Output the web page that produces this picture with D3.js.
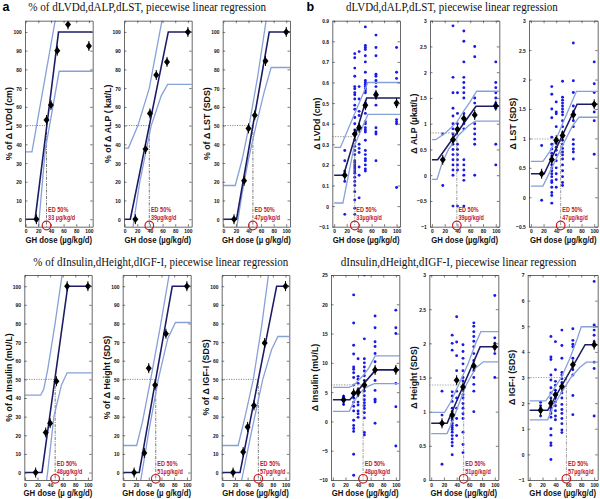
<!DOCTYPE html>
<html><head><meta charset="utf-8">
<script src="https://cdn.jsdelivr.net/npm/d3@7"></script>
<style>body{margin:0;background:#fff}svg{display:block}</style>
</head><body>
<script>
// ===================== DATA =====================
const doses = [17, 33, 40, 50, 67, 100];
const xTickValues = [0, 20, 40, 60, 80, 100];
const pctTickValues = [0, 10, 20, 30, 40, 50, 60, 70, 80, 90, 100];

// ---- % panels (a) ----
const pctLVDdMeans = [0, 53, 61, 90, 104, 92.5];
const pctLVDdFit = [[0,0],[15,0],[52,100],[106,100]];
const pctLVDdUpper = [[0,36],[10,36],[54,120]];
const pctLVDdLower = [[12,-36],[31,37],[53,79],[106,79]];

const pctALPMeans = [0, 37.5, 56.5, 77, 84, 100];
const pctALPFit = [[0,0],[9,0],[69,100],[106,100]];
const pctALPUpper = [[0,38],[6,38],[21,50],[39,70],[59,106],[70,128]];
const pctALPLower = [[13,-5],[15,0],[24,20],[42,50],[58,66],[68,72],[106,72]];

const pctLSTMeans = [0, 20.5, 48.5, 55.5, 84.5, 100];
const pctLSTFit = [[0,0],[21,0],[73,100],[106,100]];
const pctLSTUpper = [[0,18],[19,18],[30,32],[41,50],[55,77],[68,106],[75,120]];
const pctLSTLower = [[21,-5],[30,14],[40,32],[52,50],[65,68],[76,81],[106,81]];

const pctInsMeans = [0, 21.5, 26.5, 49, 100, 100];
const pctInsFit = [[0,0],[27,0],[68,100],[106,100]];
const pctInsUpper = [[0,41.5],[25,41.5],[30,45],[36,55],[47,78],[59,106],[65,120]];
const pctInsLower = [[34,-5],[36,0],[46,30],[58,47],[67,53.5],[106,53.5]];

const pctHtMeans = [0, 10.5, 56, 47, 74.5, 100];
const pctHtFit = [[0,0],[25,0],[77,100],[106,100]];
const pctHtUpper = [[0,14.5],[21,14.5],[30,27],[43,50],[58,78],[72,106],[78,118]];
const pctHtLower = [[27,-5],[40,22],[55,50],[70,72],[82,80.5],[106,80.5]];

const pctIGFMeans = [0, 11, 24.5, 36, 69.5, 100];
const pctIGFFit = [[0,0],[28,0],[86,100],[106,100]];
const pctIGFUpper = [[0,14.5],[25,14.5],[36,30],[49,50],[62,78],[73,106],[80,122]];
const pctIGFLower = [[30,-5],[45,20],[64,50],[78,66],[88,73],[106,73]];

// ---- absolute panels (b) ----
const lvddMeans = [0.15, 0.35, 0.38, 0.49, 0.54, 0.50];
const lvddFit = [[0,0.15],[15,0.15],[52,0.525],[106,0.525]];
const lvddUpper = [[0,0.285],[10,0.285],[54,0.60],[106,0.60]];
const lvddLower = [[0,0.015],[14,0.015],[32,0.29],[54,0.445],[106,0.445]];
const lvddScatter = [
  [0.27,0.22,0.17,0.12,-0.04],
  [0.74,0.72,0.67,0.63,0.58,0.57,0.55,0.54,0.52,0.49,0.47,0.43,0.40,0.37,0.32,0.29,0.27,0.25,0.22,0.21,0.20,0.19,0.18,0.17,0.16,0.14,0.12,0.10,0.07,0.03,-0.01,-0.04],
  [0.75,0.58,0.52,0.46,0.44,0.39,0.30,0.28,0.26,0.19,0.15,0.04],
  [0.87,0.78,0.77,0.76,0.73,0.70,0.65,0.61,0.60,0.59,0.58,0.57,0.56,0.55,0.50,0.48,0.45,0.41,0.40,0.38,0.37,0.36,0.32,0.27,0.25,0.23,0.22,0.20,0.18,0.17],
  [0.83,0.77,0.73,0.64,0.63,0.61,0.60,0.58,0.55,0.49,0.38,0.36,0.35,0.22],
  [0.77,0.65,0.62,0.50,0.49,0.42,0.41,0.40,0.09]
];

const alpMeans = [0.30, 0.69, 0.89, 1.10, 1.17, 1.35];
const alpFit = [[0,0.30],[9,0.30],[69,1.34],[106,1.34]];
const alpUpper = [[0,0.69],[6,0.69],[21,0.82],[39,1.03],[50,1.25],[59,1.41],[70,1.63],[106,1.63]];
const alpLower = [[0,-0.08],[8,-0.08],[16,0.24],[26,0.5],[42,0.78],[58,0.97],[68,1.05],[106,1.05]];
const alpScatter = [
  [0.8,0.3,-0.2],
  [2.9,1.9,1.6,1.3,1.15,1.0,0.9,0.8,0.7,0.6,0.5,0.4,0.3,0.2,0.1,0.0,-0.6],
  [1.6,1.2,1.0,0.6,0.5,0.4,0.3,0.2,0.1,-0.6],
  [2.8,2.6,2.2,1.9,1.8,1.7,1.6,1.5,1.2,1.0,0.9,0.3,0.2,0.1,0.0,-0.1,-0.6],
  [2.5,2.3,1.5,1.4,1.2,1.0,0.9,0.8,0.7,0.6,0.0],
  [2.2,1.8,1.7,1.6,1.5,1.4,1.3,0.6,0.2]
];

const lstMeans = [0.40, 0.64, 0.97, 1.05, 1.40, 1.58];
const lstFit = [[0,0.40],[21,0.40],[73,1.58],[106,1.58]];
const lstUpper = [[0,0.61],[19,0.61],[30,0.78],[40,0.99],[50,1.25],[62,1.55],[72,1.80],[106,1.80]];
const lstLower = [[0,0.19],[19,0.19],[33,0.5],[50,0.88],[65,1.2],[76,1.36],[106,1.36]];
const lstScatter = [
  [0.88,0.38,-0.05],
  [1.88,1.75,1.5,1.35,1.02,0.9,0.82,0.75,0.7,0.55,0.5,0.45,0.4,0.35,0.28,0.25,0.17,0.08,0.03,-0.1],
  [1.62,1.45,1.42,1.2,1.0,0.92,0.85,0.8,0.72,0.62,0.5,0.4,0.3,0.17],
  [1.97,1.7,1.65,1.6,1.55,1.5,1.45,1.4,1.3,1.2,1.1,1.02,0.97,0.9,0.83,0.77,0.72,0.65,0.55,0.45,0.35,0.25,0.2],
  [2.62,1.98,1.78,1.55,1.45,1.3,1.2,0.98,0.9,0.82,0.77,0.65],
  [2.3,1.93,1.78,1.55,1.45,1.3,0.73]
];

const insMeans = [3.7, 4.8, 5.0, 6.2, 8.8, 8.8];
const insFit = [[0,3.7],[27,3.7],[68,8.8],[106,8.8]];
const insUpper = [[0,5.8],[25,5.8],[30,6.0],[36,6.5],[47,7.7],[57,9.1],[67,11.2],[106,11.2]];
const insLower = [[0,1.7],[26,1.7],[33,3.3],[40,4.5],[50,5.6],[58,6.1],[66,6.45],[106,6.45]];
const insScatter = [
  [4.3,4.0,3.4,2.9],
  [21.6,16.8,13.0,11.5,9.3,8.9,8.3,7.5,6.2,4.8,4.0,3.3,2.6,1.8,0.2,-0.7,-1.2,-1.7,-5.6,-9.2],
  [10.7,7.7,7.2,6.5,5.4,4.5,3.3,2.8,1.8,1.3,0.7],
  [25,14.1,10.7,10,9.3,8.6,7.8,7.0,6.2,5.2,4.4,3.7,3.2,2.7,2.2,1.5,0.6,-1.9,-2.3],
  [18,16,13.6,12.8,11.6,10.2,8.8,7.0,5.3,3.8,3.5,3.3,-0.3],
  [19,16,15,6.5,2.5,-4.2]
];

const htMeans = [0.83, 0.95, 1.46, 1.36, 1.67, 1.95];
const htFit = [[0,0.83],[25,0.83],[77,1.95],[106,1.95]];
const htUpper = [[0,0.99],[21,0.99],[30,1.13],[43,1.39],[58,1.70],[70,2.0],[78,2.17],[106,2.17]];
const htLower = [[0,0.68],[25,0.68],[35,0.9],[45,1.15],[55,1.39],[70,1.64],[82,1.73],[106,1.73]];
const htScatter = [
  [1.3,0.95,0.23],
  [2.12,2.0,1.9,1.29,1.23,1.15,1.05,1.0,0.95,0.9,0.87,0.83,0.8,0.77,0.74,0.7,0.65,0.6,0.55,0.5,0.37],
  [2.39,2.02,1.82,1.6,1.3,1.2,1.05,0.9,0.8,0.65],
  [1.98,1.88,1.78,1.7,1.6,1.5,1.45,1.33,1.25,1.2,1.12,1.05,0.97,0.9,0.7,0.52,0.4],
  [2.3,2.25,2.17,2.1,2.03,1.95,1.85,1.75,1.6,1.5,1.4,1.3,1.0],
  [2.7,2.08,2.0,1.95,1.92,1.85,1.5]
];

const igfMeans = [1.72, 2.0, 2.33, 2.65, 3.5, 4.28];
const igfFit = [[0,1.72],[28,1.72],[86,4.28],[106,4.28]];
const igfUpper = [[0,2.09],[25,2.09],[36,2.49],[49,3.0],[62,3.72],[73,4.45],[80,4.98],[106,4.98]];
const igfLower = [[0,1.35],[28,1.35],[35,1.8],[45,2.23],[64,3.0],[78,3.4],[88,3.6],[106,3.6]];
const igfScatter = [
  [2.03,1.9,1.8,1.65,1.5],
  [4.6,3.8,3.7,3.1,2.9,2.6,2.4,2.2,2.05,1.9,1.8,1.7,1.6,1.45,1.0,0.75,0.45,0.35,-0.2],
  [4.4,3.3,2.85,2.7,2.5,2.35,2.2,2.05,1.9,1.7,1.5,1.35],
  [4.85,4.25,3.75,3.2,3.1,2.95,2.8,2.6,2.4,2.2,1.95,1.75,1.6,1.4,1.2,0.95,0.85],
  [4.9,4.45,4.3,4.2,3.75,3.5,3.3,3.1,2.3,1.55],
  [6.75,5.05,5.0,4.85,4.65,4.4,4.25,3.6,3.35,1.5]
];

// ED50 values and labels
const ed50 = [33, 39, 47, 48, 51, 57];
const edDoseLabelsA = ["33  µg/kg/d", "39µg/kg/d", "47µg/kg/d", "48µg/kg/d", "51µg/kg/d", "57µg/kg/d"];
const edDoseLabelsB = ["33µg/kg/d", "39µg/kg/d", "47µg/kg/d", "48µg/kg/d", "51µg/kg/d", "57µg/kg/d"];
const midB = [0.3375, 0.82, 0.99, 6.25, 1.39, 3.0];

const yLabelsA = ["% of \u0394 LVDd (cm)", "% of \u0394 ALP (  kat/L)", "% of \u0394 LST (SDS)", "% of \u0394 Insulin (mU/L)", "% of \u0394 Height (SDS)", "% of \u0394 IGF-I (SDS)"];
const yLabelsB = ["\u0394 LVDd (cm)", "\u0394 ALP (\u00b5kat/L)", "\u0394 LST (SDS)", "\u0394 Insulin (mU/L)", "\u0394 Height (SDS)", "\u0394 IGF-I (SDS)"];
const xLabelsA = ["GH dose (\u00b5g/kg/d)", "GH dose (\u00b5g/kg/d)", "GH dose (\u00b5 g/kg/d)", "GH dose (\u00b5 g/kg/d)", "GH dose (\u00b5 g/kg/d)", "GH dose (\u00b5g/kg/d)"];
const xLabelB = "GH dose (\u00b5g/kg/d)";

const bDomains = [[-0.1, 0.9], [-1, 3], [-0.5, 3], [-10, 25], [0, 3], [-1, 7]];
const bTicks = [
  [-0.1,0,0.1,0.2,0.3,0.4,0.5,0.6,0.7,0.8,0.9],
  [-1,-0.5,0,0.5,1,1.5,2,2.5,3],
  [-0.5,0,0.5,1,1.5,2,2.5,3],
  [-10,-5,0,5,10,15,20,25],
  [0,0.5,1,1.5,2,2.5,3],
  [-1,0,1,2,3,4,5,6,7]
];

const titles = [
  "% of dLVDd,dALP,dLST, piecewise linear regression",
  "dLVDd,dALP,dLST, piecewise linear regression",
  "% of dInsulin,dHeight,dIGF-I, piecewise linear regression",
  "dInsulin,dHeight,dIGF-I, piecewise linear regression"
];

// ===================== LAYOUT =====================
const rowsTop = [20.7, 275];
const rowsBottom = [226.7, 480];
const lefts = [[25, 124, 222.7, 332.3, 430, 529], [24.3, 122.7, 221.7, 331, 429.3, 527.7]];
const rights = [[92.7, 191.7, 290, 400, 499.3, 597.7], [91.7, 190.7, 289.3, 399.3, 498.3, 597.7]];
const SQ = 0.8; // horizontal squeeze of the reference
const RED = "#c0202c", NAVY = "#1c1c66", BAND = "#86a0d8", DOT = "#1a1ae6";
const SANS = "'Liberation Sans', Arial, Helvetica, sans-serif";
const SERIF = "'Liberation Serif', 'Times New Roman', serif";

const svg = d3.select("body").append("svg").attr("width", 600).attr("height", 499);
svg.append("rect").attr("width", 600).attr("height", 499).attr("fill", "#fff");

function squeeze(sel, f) {
  sel.each(function () {
    const w = this.getComputedTextLength();
    if (w > 0) d3.select(this).attr("textLength", w * f).attr("lengthAdjust", "spacingAndGlyphs");
  });
}

const pctPanels = [
  {means: pctLVDdMeans, fit: pctLVDdFit, upper: pctLVDdUpper, lower: pctLVDdLower},
  {means: pctALPMeans, fit: pctALPFit, upper: pctALPUpper, lower: pctALPLower},
  {means: pctLSTMeans, fit: pctLSTFit, upper: pctLSTUpper, lower: pctLSTLower},
  {means: pctInsMeans, fit: pctInsFit, upper: pctInsUpper, lower: pctInsLower},
  {means: pctHtMeans, fit: pctHtFit, upper: pctHtUpper, lower: pctHtLower},
  {means: pctIGFMeans, fit: pctIGFFit, upper: pctIGFUpper, lower: pctIGFLower}
];
const absPanels = [
  {means: lvddMeans, fit: lvddFit, upper: lvddUpper, lower: lvddLower, scatter: lvddScatter},
  {means: alpMeans, fit: alpFit, upper: alpUpper, lower: alpLower, scatter: alpScatter},
  {means: lstMeans, fit: lstFit, upper: lstUpper, lower: lstLower, scatter: lstScatter},
  {means: insMeans, fit: insFit, upper: insUpper, lower: insLower, scatter: insScatter},
  {means: htMeans, fit: htFit, upper: htUpper, lower: htLower, scatter: htScatter},
  {means: igfMeans, fit: igfFit, upper: igfUpper, lower: igfLower, scatter: igfScatter}
];

let clipId = 0;
function drawPanel(d, o) {
  const x = d3.scaleLinear().domain(o.xDomain).range([o.left, o.right]);
  const y = d3.scaleLinear().domain(o.yDomain).range([o.bottom, o.top]);
  const id = "clip" + (clipId++);
  svg.append("clipPath").attr("id", id).append("rect")
    .attr("x", o.left).attr("y", o.top).attr("width", o.right - o.left).attr("height", o.bottom - o.top);
  const g = svg.append("g");
  const gc = g.append("g").attr("clip-path", `url(#${id})`);

  if (d.scatter) {
    d.scatter.forEach((col, i) => {
      gc.selectAll(null).data(col).enter().append("circle")
        .attr("cx", x(doses[i])).attr("cy", v => y(v)).attr("r", 1.45).attr("fill", DOT);
    });
  }
  const line = d3.line().x(p => x(p[0])).y(p => y(p[1]));
  // reference lines
  const ymid = y(o.mid);
  gc.append("line").attr("x1", o.left).attr("x2", x(o.ed)).attr("y1", ymid).attr("y2", ymid)
    .attr("stroke", o.kind === "b" ? "#a8a8a8" : "#555").attr("stroke-width", o.kind === "b" ? 1.2 : 0.8)
    .attr("stroke-dasharray", o.kind === "b" ? "1.3,1.3" : "1,1.4");
  gc.append("line").attr("x1", x(o.ed)).attr("x2", x(o.ed)).attr("y1", ymid).attr("y2", o.bottom)
    .attr("stroke", o.kind === "b" ? "#808080" : "#555").attr("stroke-width", 0.8)
    .attr("stroke-dasharray", "3,1.2,1,1.2");
  [d.upper, d.lower].forEach(b => gc.append("path").attr("d", line(b)).attr("fill", "none")
    .attr("stroke", BAND).attr("stroke-width", 1.3));
  gc.append("path").attr("d", line(d.fit)).attr("fill", "none").attr("stroke", NAVY).attr("stroke-width", 1.6);
  // means (diamonds with short vertical bars)
  d.means.forEach((m, i) => {
    const cx = x(doses[i]), cy = y(m);
    gc.append("line").attr("x1", cx).attr("x2", cx).attr("y1", cy - 5).attr("y2", cy + 5)
      .attr("stroke", "#000").attr("stroke-width", 1);
    gc.append("path").attr("d", `M${cx},${cy - 3.8}L${cx + 3},${cy}L${cx},${cy + 3.8}L${cx - 3},${cy}Z`).attr("fill", "#000");
  });

  // axes (MATLAB box with inward ticks)
  const axStyle = s => {
    s.select(".domain").attr("stroke", "#444").attr("stroke-width", 0.8);
    s.selectAll(".tick line").attr("stroke", "#444").attr("stroke-width", 0.7);
    s.selectAll("text").attr("font-family", SANS).attr("font-weight", "bold").attr("font-size", 6.2).attr("fill", "#111");
  };
  const gl = g.append("g").attr("transform", `translate(${o.left},0)`)
    .call(d3.axisLeft(y).tickValues(o.yTicks).tickSize(-2.5).tickSizeOuter(0).tickPadding(3.2).tickFormat(d3.format("")));
  axStyle(gl);
  const gr = g.append("g").attr("transform", `translate(${o.right},0)`)
    .call(d3.axisRight(y).tickValues(o.yTicks).tickSize(-2.5).tickSizeOuter(0).tickFormat(""));
  axStyle(gr);
  const gb = g.append("g").attr("transform", `translate(0,${o.bottom})`)
    .call(d3.axisBottom(x).tickValues(xTickValues).tickSize(-2.5).tickSizeOuter(0).tickPadding(2.2));
  axStyle(gb);
  const gt = g.append("g").attr("transform", `translate(0,${o.top})`)
    .call(d3.axisTop(x).tickValues(xTickValues).tickSize(-2.5).tickSizeOuter(0).tickFormat(""));
  axStyle(gt);
  squeeze(gl.selectAll("text"), SQ);
  squeeze(gb.selectAll("text"), SQ);

  // axis labels
  g.append("text").attr("transform", `translate(${o.left - 12.8},${(o.top + o.bottom) / 2}) rotate(-90)`)
    .attr("text-anchor", "middle").attr("font-family", SANS).attr("font-weight", "bold").attr("font-size", 8.8)
    .attr("fill", "#111").text(o.ylabel);
  const xl = g.append("text").attr("x", (o.left + o.right) / 2).attr("y", o.bottom + 16)
    .attr("text-anchor", "middle").attr("font-family", SANS).attr("font-weight", "bold").attr("font-size", 8.2)
    .attr("fill", "#111").text(o.xlabel);
  squeeze(xl, 0.95);

  // ED 50% annotation
  const et = g.append("g").attr("font-family", SANS).attr("font-weight", "bold").attr("font-size", 6.9).attr("fill", RED);
  const t1 = et.append("text").attr("x", x(o.ed) + 1.6).attr("y", o.bottom - 14.3).text("ED 50%");
  const t2 = et.append("text").attr("x", x(o.ed) + 1.6).attr("y", o.bottom - 6.4).text(o.edLabel);
  squeeze(t1, SQ); squeeze(t2, SQ);
  g.append("circle").attr("cx", x(o.ed)).attr("cy", o.bottom - 1.2).attr("r", 4.3)
    .attr("fill", "none").attr("stroke", RED).attr("stroke-width", 1.2);
}

for (let r = 0; r < 2; r++) {
  for (let c = 0; c < 3; c++) {
    const k = r * 3 + c;
    drawPanel(pctPanels[k], {
      kind: "a", left: lefts[r][c], right: rights[r][c], top: rowsTop[r], bottom: rowsBottom[r],
      xDomain: [-1, 106], yDomain: [-4, 106], yTicks: pctTickValues, mid: 50, ed: ed50[k],
      edLabel: edDoseLabelsA[k], ylabel: yLabelsA[k], xlabel: xLabelsA[k]
    });
    drawPanel(absPanels[k], {
      kind: "b", left: lefts[r][c + 3], right: rights[r][c + 3], top: rowsTop[r], bottom: rowsBottom[r],
      xDomain: [-3, 105.5], yDomain: bDomains[k], yTicks: bTicks[k], mid: midB[k], ed: ed50[k],
      edLabel: edDoseLabelsB[k], ylabel: yLabelsB[k], xlabel: xLabelB
    });
  }
}

// titles (horizontally scaled to the reference width) and panel letters
const titlePos = [[28.3, 10.8, 238], [346, 10.8, 212], [33.3, 265.7, 255], [340.7, 265.7, 236]];
titles.forEach((t, i) => {
  const tg = svg.append("g");
  const tt = tg.append("text").attr("x", 0).attr("y", 0).attr("font-family", SERIF)
    .attr("font-size", 12.5).attr("fill", "#111").text(t);
  const w = tt.node().getComputedTextLength();
  tg.attr("transform", `translate(${titlePos[i][0]},${titlePos[i][1]}) scale(${titlePos[i][2] / w},1)`);
});
svg.append("text").attr("x", 2.5).attr("y", 10.8).attr("font-family", SANS).attr("font-weight", "bold")
  .attr("font-size", 12.5).attr("fill", "#000").text("a");
svg.append("text").attr("x", 306.5).attr("y", 10.8).attr("font-family", SANS).attr("font-weight", "bold")
  .attr("font-size", 12.5).attr("fill", "#000").text("b");
</script>
</body></html>
